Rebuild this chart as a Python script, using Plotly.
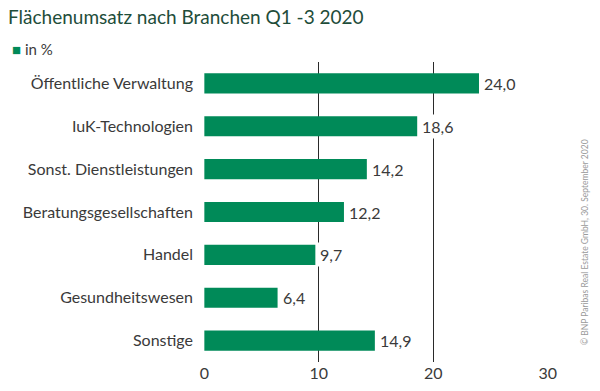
import plotly.graph_objects as go

categories = ["Öffentliche Verwaltung", "IuK-Technologien", "Sonst. Dienstleistungen",
              "Beratungsgesellschaften", "Handel", "Gesundheitswesen", "Sonstige"]
values = [24.0, 18.6, 14.2, 12.2, 9.7, 6.4, 14.9]
tick_vals = [0, 10, 20, 30]
tick_text = ["0", "10", "20", "30"]

GREEN = "#008a58"
TITLE_GREEN = "#1e4d3a"
TXT = "#3a3a3a"
FONT = "Lato"

fig = go.Figure()
fig.add_trace(go.Bar(
    y=categories, x=values, orientation="h", name="in %",
    marker=dict(color=GREEN, line=dict(width=0)),
    width=0.47, hoverinfo="skip",
))

# value labels with white background (they interrupt the grid lines)
for cat, v in zip(categories, values):
    fig.add_annotation(x=v, y=cat, xref="x", yref="y",
                       text=f"{v:.1f}".replace(".", ","),
                       xanchor="left", yanchor="middle", xshift=2,
                       showarrow=False, bgcolor="white", borderpad=2,
                       font=dict(family=FONT, size=16, color=TXT))

fig.update_layout(
    width=600, height=391,
    margin=dict(l=204, r=52, t=62, b=29, autoexpand=False),
    paper_bgcolor="white", plot_bgcolor="white",
    font=dict(family=FONT, size=16, color=TXT),
    title=dict(text="Flächenumsatz nach Branchen Q1 -3 2020",
               font=dict(family=FONT, size=19, color=TITLE_GREEN),
               x=8 / 600, xanchor="left", xref="container",
               y=1 - 17 / 391, yanchor="middle", yref="container"),
    showlegend=False,
)
fig.update_xaxes(range=[-0.03, 30.03], tickvals=tick_vals, ticktext=tick_text,
                 showgrid=True, gridcolor="#2a2a2a", gridwidth=1,
                 zeroline=False, showline=False, ticks="", automargin=False,
                 tickfont=dict(family=FONT, size=16, color=TXT))
fig.update_yaxes(autorange="reversed", showgrid=False, zeroline=False,
                 ticks="", ticklabelstandoff=10, automargin=False,
                 tickfont=dict(family=FONT, size=16, color=TXT))

# legend-like label
fig.add_annotation(text=f"<span style='color:{GREEN}'>■</span> in %",
                   xref="paper", yref="paper", x=0, y=1, xshift=-194, yshift=13,
                   xanchor="left", yanchor="middle", showarrow=False,
                   font=dict(family=FONT, size=15, color=TXT))

fig.add_annotation(text="© BNP Paribas Real Estate GmbH, 30. September 2020",
                   xref="paper", yref="paper", x=1.0, y=0.4,
                   xshift=37, textangle=-90,
                   xanchor="center", yanchor="middle", showarrow=False,
                   font=dict(family=FONT, size=8.5, color="#9a9a9a"))

fig.write_html("out.html", config={"displayModeBar": False},
               post_script="document.body.style.margin='0';document.body.style.overflow='hidden';")
